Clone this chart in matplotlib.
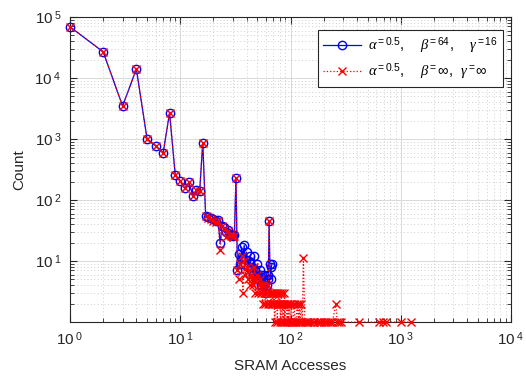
import math
import matplotlib.pyplot as plt
from matplotlib.ticker import FixedLocator, LogLocator, FuncFormatter, NullFormatter

plt.rcParams['font.family'] = ['Liberation Sans', 'DejaVu Sans']
plt.rcParams['mathtext.fontset'] = 'custom'
plt.rcParams['mathtext.rm'] = 'Liberation Sans'
plt.rcParams['mathtext.it'] = 'Liberation Serif:italic'
plt.rcParams['mathtext.bf'] = 'Liberation Sans:bold'

# alpha=0.5, beta=64, gamma=16
blue_x = list(range(1, 69))
blue_y = [69000, 26800, 3470, 14000, 1000, 770, 590, 2700, 260, 205,
          155, 195, 116, 145, 140, 870, 55, 52, 50, 48,
          46, 47, 20, 38, 36, 30, 32, 28, 27, 26,
          27, 232, 7, 13, 9, 17, 11, 18, 9, 14,
          8, 10, 12, 7, 8, 6, 12, 7, 5, 9,
          6, 5, 7, 4, 6, 5, 4, 6, 5, 3,
          4, 5, 6, 45, 9, 5, 8, 9]

# alpha=0.5, beta=inf, gamma=inf
red_x = list(range(1, 91)) + [92, 93, 95, 96, 98, 100, 102, 104, 106, 108,
                              110, 112, 115, 118, 120, 122, 125, 128, 131, 135,
                              140, 145, 150, 160, 165, 175, 180, 190, 200, 210,
                              220, 230, 240, 258, 265, 275, 285, 420, 640, 690,
                              730, 1000, 1250]
red_y = [69000, 26800, 3470, 14000, 1000, 770, 590, 2700, 260, 205,
         155, 195, 116, 145, 140, 870, 55, 50, 48, 46,
         44, 45, 15, 37, 34, 25, 31, 27, 26, 25,
         26, 232, 7, 5, 9, 12, 3, 10, 6, 8,
         5, 7, 4, 6, 5, 4, 8, 3, 5, 6,
         3, 4, 5, 3, 4, 2, 3, 4, 2, 3,
         3, 2, 4, 45, 3, 2, 3, 2, 3, 2,
         3, 1, 2, 3, 2, 1, 3, 2, 2, 3,
         1, 2, 3, 1, 2, 2, 1, 3, 1, 2,
         2, 1, 2, 1, 2, 1, 2, 1, 1, 2,
         1, 1, 2, 1, 2, 1, 2, 1, 11, 1,
         1, 1, 1, 1, 1, 1, 1, 1, 1, 1,
         1, 1, 1, 2, 1, 1, 1, 1, 1, 1,
         1, 1, 1]

fig = plt.figure(figsize=(5.26, 3.78), dpi=100)
ax = fig.add_axes([70 / 526, 1 - 322 / 378, 441 / 526, 305 / 378])

ax.plot(blue_x, blue_y, '-', color='#0000ff', lw=0.9, marker='o', ms=6,
        mfc='none', mew=1.0, clip_on=False, zorder=3,
        label=r'$\alpha^{=0.5}$,    $\beta^{=64}$,    $\gamma^{=16}$')
ax.plot(red_x, red_y, ':', color='#ff0000', lw=0.9, marker='x', ms=6,
        mew=1.0, clip_on=False, zorder=4,
        label=r'$\alpha^{=0.5}$,    $\beta^{=}\infty$,  $\gamma^{=}\infty$')

ax.set_xscale('log')
ax.set_yscale('log')
ax.set_xlim(1, 1e4)
ax.set_ylim(1, 1e5)

ax.xaxis.set_major_locator(FixedLocator([1, 10, 100, 1000, 10000]))
ax.yaxis.set_major_locator(FixedLocator([10, 100, 1000, 10000, 100000]))
ax.xaxis.set_minor_locator(LogLocator(base=10, subs=range(2, 10), numticks=20))
ax.yaxis.set_minor_locator(LogLocator(base=10, subs=range(2, 10), numticks=20))
ax.xaxis.set_minor_formatter(NullFormatter())
ax.yaxis.set_minor_formatter(NullFormatter())


def fmt(v, pos):
    return r'10$^{\mathregular{\ %d}}$' % round(math.log10(v))


ax.xaxis.set_major_formatter(FuncFormatter(fmt))
ax.yaxis.set_major_formatter(FuncFormatter(fmt))

dark = '#262626'
for s in ax.spines.values():
    s.set_color(dark)
    s.set_linewidth(0.8)
ax.tick_params(which='both', direction='in', top=True, right=True, colors=dark,
               labelsize=11)
ax.tick_params(which='major', length=5, pad=6)
ax.tick_params(which='minor', length=3)

ax.grid(True, which='major', color='#d9d9d9', lw=0.7, ls='-')
ax.grid(True, which='minor', color='#cfcfcf', lw=0.7, ls=(0, (1, 2.5)))
ax.set_axisbelow(True)

ax.set_xlabel('SRAM Accesses', fontsize=11, color=dark, labelpad=8)
ax.set_ylabel('Count', fontsize=11, color=dark, labelpad=6)

leg = ax.legend(loc='upper right', bbox_to_anchor=(0.982, 0.957), fontsize=10.5,
                frameon=True, fancybox=False, edgecolor=dark, framealpha=1,
                borderpad=0.35, labelspacing=0.35, handlelength=2.6,
                handletextpad=0.5, borderaxespad=0)
leg.get_frame().set_linewidth(0.8)

plt.savefig('out.png', dpi=100)
